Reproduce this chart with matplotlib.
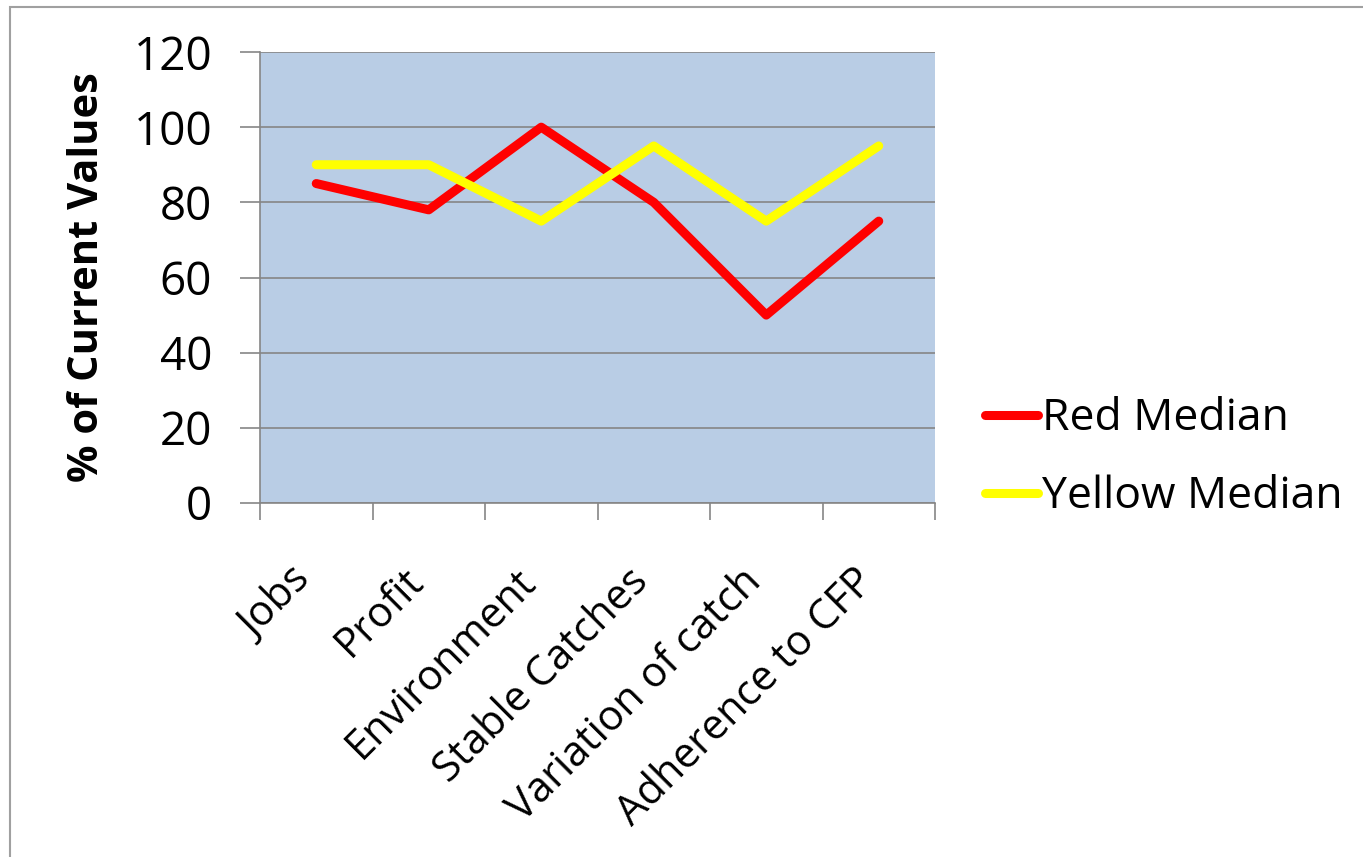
import matplotlib
matplotlib.use('Agg')
import matplotlib.pyplot as plt
from matplotlib.patches import Rectangle

categories = ['Jobs', 'Profit', 'Environment', 'Stable Catches',
              'Variation of catch', 'Adherence to CFP']
red_median = [85, 78, 100, 80, 50, 75]
yellow_median = [90, 90, 75, 95, 75, 95]
y_ticks = [0, 20, 40, 60, 80, 100, 120]

plt.rcParams['font.family'] = ['Open Sans', 'DejaVu Sans']

fig = plt.figure(figsize=(13.63, 8.57), dpi=100)
ax = fig.add_axes([260 / 1363, 1 - 503 / 857, 675 / 1363, 451 / 857])

# outer border of the chart area (bottom edge is cut off in the original)
fig.patches.append(Rectangle((10 / 1363, -0.05), 1.0, 1.05 - 7 / 857, transform=fig.transFigure,
                             fill=False, edgecolor='#a0a0a0', linewidth=1.5))

ax.set_facecolor('#b9cde5')
x = list(range(len(categories)))
ax.plot(x, red_median, color='#ff0000', linewidth=6.5, label='Red Median', solid_capstyle='round')
ax.plot(x, yellow_median, color='#ffff00', linewidth=6.5, label='Yellow Median', solid_capstyle='round')

ax.set_xlim(-0.5, len(categories) - 0.5)
ax.set_ylim(0, 120)
ax.set_yticks(y_ticks)
ax.yaxis.grid(True, color='#868686', linewidth=1.2)
ax.set_axisbelow(True)

# tick marks sit between categories, labels at category centres
ax.set_xticks([i - 0.5 for i in range(len(categories) + 1)])
ax.set_xticklabels([])
ax.set_xticks([i - 0.1 for i in x], minor=True)
ax.set_xticklabels(categories, minor=True, rotation=45, ha='right', va='center',
                   rotation_mode='anchor', fontsize=30)
ax.tick_params(axis='x', which='minor', length=0, pad=52)
ax.tick_params(axis='x', which='major', length=12, color='#868686', width=1.2)
ax.tick_params(axis='y', length=14.4, color='#868686', width=1.2, labelsize=33, pad=20)

for side in ['top', 'right']:
    ax.spines[side].set_visible(False)
for side in ['left', 'bottom']:
    ax.spines[side].set_color('#868686')
    ax.spines[side].set_linewidth(1.2)

ax.set_ylabel('% of Current Values', fontsize=30, fontweight='bold', labelpad=18)

fig.legend(loc='upper left', bbox_to_anchor=(945 / 1363, 1 - 357 / 857), frameon=False,
           fontsize=32, handlelength=1.2, handletextpad=0.08, labelspacing=0.75)

fig.savefig('out.png', dpi=100)
